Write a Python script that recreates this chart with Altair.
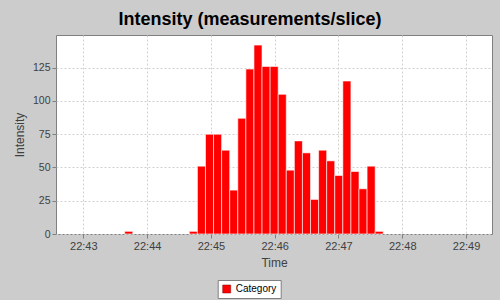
import altair as alt
import pandas as pd

# Bar start times (each bar spans one 7.6 s slice)
starts = [
    "22:43:38.900",
    "22:44:39.700", "22:44:47.300", "22:44:54.900", "22:45:02.500",
    "22:45:10.100", "22:45:17.700", "22:45:25.300", "22:45:32.900",
    "22:45:40.500", "22:45:48.100", "22:45:55.700", "22:46:03.300",
    "22:46:10.900", "22:46:18.500", "22:46:26.100", "22:46:33.700",
    "22:46:41.300", "22:46:48.900", "22:46:56.500", "22:47:04.100",
    "22:47:11.700", "22:47:19.300", "22:47:26.900", "22:47:34.500",
]
values = [2,
          2, 51, 75, 75, 63, 33, 87, 124, 142, 126, 126, 105,
          48, 70, 61, 26, 63, 55, 44, 115, 47, 34, 51, 2]
slice_seconds = 7.6
series = ["Category"]
y_ticks = [0, 25, 50, 75, 100, 125]
x_tick_minutes = [43, 44, 45, 46, 47, 48, 49]

day = "2000-01-01"
start_ts = pd.to_datetime([f"{day} {s}" for s in starts])
end_ts = start_ts + pd.Timedelta(seconds=slice_seconds)
df = pd.DataFrame({
    "start": start_ts.strftime("%Y-%m-%dT%H:%M:%S.%f").str[:-3],
    "end": end_ts.strftime("%Y-%m-%dT%H:%M:%S.%f").str[:-3],
    "value": values,
    "series": series[0],
})

font = "Liberation Sans"
x_domain = [
    alt.DateTime(year=2000, month=1, date=1, hours=22, minutes=42, seconds=34, milliseconds=300),
    alt.DateTime(year=2000, month=1, date=1, hours=22, minutes=49, seconds=24, milliseconds=400),
]
x_values = [alt.DateTime(year=2000, month=1, date=1, hours=22, minutes=m) for m in x_tick_minutes]

chart = alt.Chart(df).mark_bar(stroke="white", strokeWidth=0.6).encode(
    x=alt.X("start:T",
            scale=alt.Scale(domain=x_domain),
            axis=alt.Axis(title="Time", format="%H:%M", values=x_values,
                          labelFontSize=11, titleFontSize=12, labelPadding=2,
                          titlePadding=6)),
    x2="end:T",
    y=alt.Y("value:Q",
            scale=alt.Scale(domain=[0, 149.6], nice=False, zero=True),
            axis=alt.Axis(title="Intensity", values=y_ticks, labelFontSize=10.5,
                          titleFontSize=12, labelPadding=2, titlePadding=6)),
    y2=alt.datum(0),
    color=alt.Color("series:N", scale=alt.Scale(range=["#FF0000"]),
                    legend=alt.Legend(title=None, orient="none", legendX=161.7, legendY=245,
                                      symbolType="square", symbolSize=64,
                                      symbolStrokeColor="#800000", symbolStrokeWidth=0.5,
                                      labelFontSize=10, labelOffset=4, padding=4,
                                      fillColor="white", strokeColor="#808080")),
).properties(
    width=436, height=199,
    autosize="none",
    padding={"left": 56, "top": 35, "right": 8, "bottom": 66},
    background="#CCCCCC",
    title=alt.TitleParams("Intensity (measurements/slice)", font=font, fontSize=18,
                          fontWeight="bold", color="black", anchor="middle", dx=-24,
                          dy=18, baseline="alphabetic", offset=10),
).configure_view(
    fill="white", stroke="#808080", strokeWidth=1,
).configure_axis(
    labelFont=font, titleFont=font, labelColor="#404040", titleColor="#404040",
    titleFontWeight="normal", domain=False, tickColor="#808080", tickSize=4,
    gridColor="#D0D0D0", gridDash=[2, 2], gridWidth=1,
).configure_legend(
    labelFont=font, labelColor="black",
)

chart.save("out.html", embed_options={"renderer": "svg", "actions": False})
